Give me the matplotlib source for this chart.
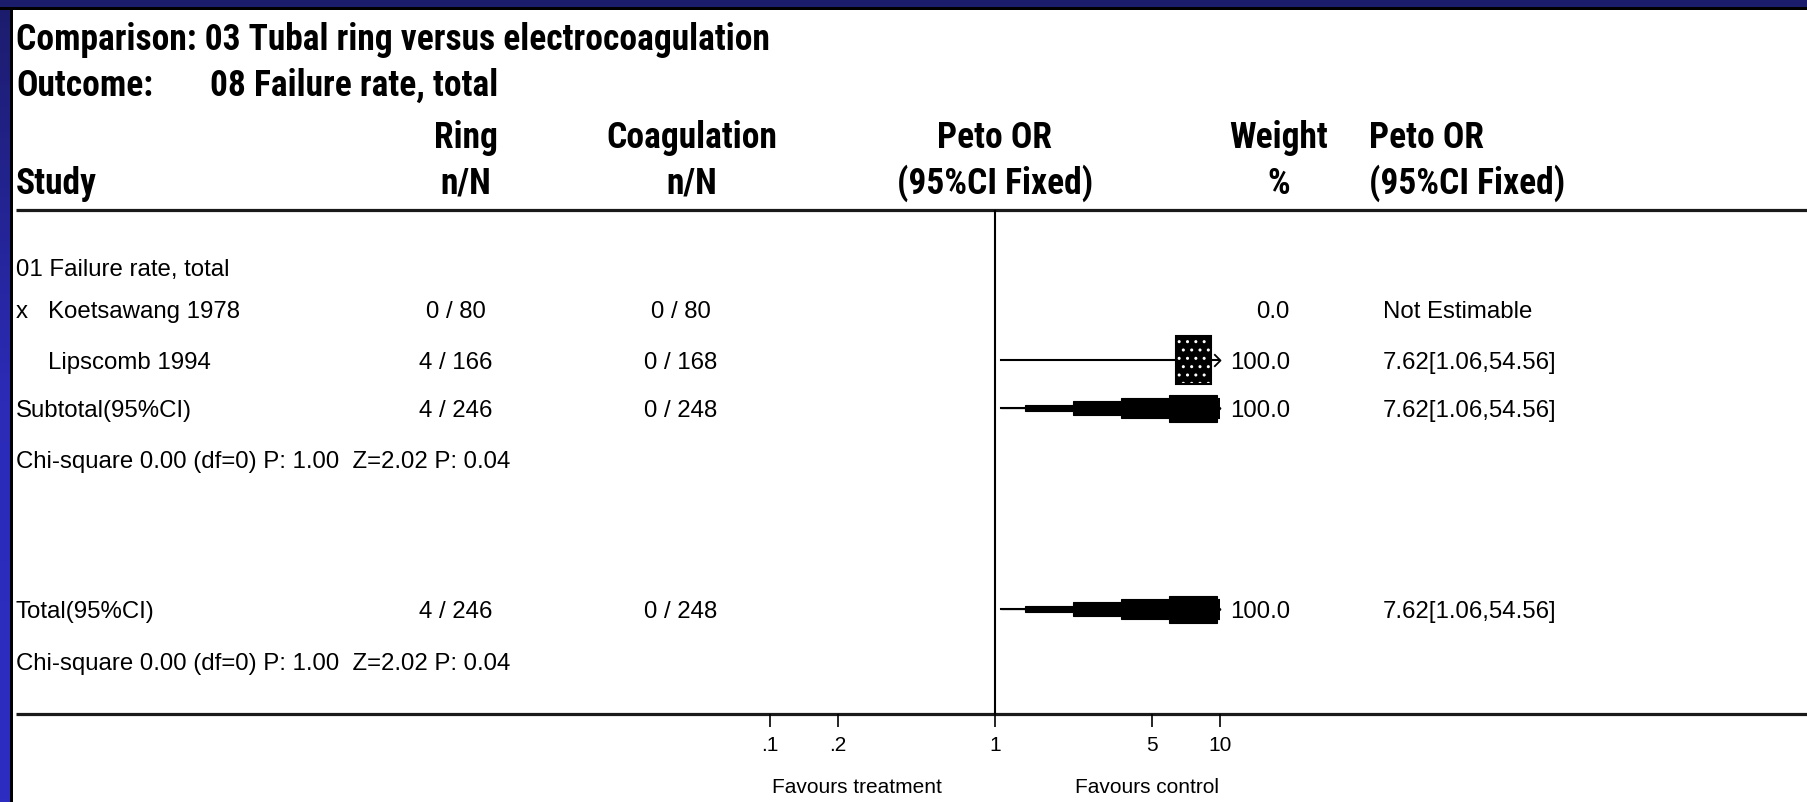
import numpy as np
import matplotlib
matplotlib.use("Agg")
import matplotlib.pyplot as plt
from matplotlib import font_manager
from matplotlib.patches import Rectangle, Polygon
from matplotlib.path import Path
from matplotlib.colors import LinearSegmentedColormap

# fonts: a narrow bold face for the headings if there is one, Arial-like body
names = {f.name for f in font_manager.fontManager.ttflist}
narrow = 'Liberation Sans'
for cand in ['Liberation Sans Narrow', 'Roboto Condensed', 'Open Sans Condensed']:
    if cand in names:
        narrow = cand
        break
body = 'Liberation Sans' if 'Liberation Sans' in names else 'DejaVu Sans'

# data
title = 'Comparison: 03 Tubal ring versus electrocoagulation'
outcome = '08 Failure rate, total'
group_label = '01 Failure rate, total'
studies = ['Koetsawang 1978', 'Lipscomb 1994']
study_flags = ['x', '']
ring_n = [0, 4]
ring_N = [80, 166]
coag_n = [0, 0]
coag_N = [80, 168]
weights = [0.0, 100.0]
or_est = [np.nan, 7.62]
or_lo = [np.nan, 1.06]
or_hi = [np.nan, 54.56]

sub_ring = (4, 246)
sub_coag = (0, 248)
sub_weight = 100.0
sub_or = (7.62, 1.06, 54.56)
sub_het = 'Chi-square 0.00 (df=0) P: 1.00  Z=2.02 P: 0.04'

tot_ring = (4, 246)
tot_coag = (0, 248)
tot_weight = 100.0
tot_or = (7.62, 1.06, 54.56)
tot_het = 'Chi-square 0.00 (df=0) P: 1.00  Z=2.02 P: 0.04'

ticks = [0.1, 0.2, 1, 5, 10]
tick_labels = ['.1', '.2', '1', '5', '10']

W, H = 1808, 802
fig = plt.figure(figsize=(W / 100, H / 100), dpi=100, facecolor='white')
renderer = fig.canvas.get_renderer()

# pixel-coordinate layer for text and frame
ax = fig.add_axes([0, 0, 1, 1])
ax.set_xlim(0, W)
ax.set_ylim(H, 0)
ax.axis('off')

# blue slide frame
ax.add_patch(Rectangle((0, 0), W, 7, color='#1c1c6c', lw=0))
ax.add_patch(Rectangle((0, 7), W, 3, color='black', lw=0))
cmap = LinearSegmentedColormap.from_list('frame', ['#1c1c6c', '#2b2bb8', '#2d2dc2'])
ax.imshow(np.linspace(0, 1, 256).reshape(-1, 1), extent=[0, 10, H, 0], aspect='auto', cmap=cmap)
ax.add_patch(Rectangle((10, 7), 3, H, color='black', lw=0))
ax.set_xlim(0, W)
ax.set_ylim(H, 0)

# size the heading font so the title spans the same width as in the slide
t = ax.text(16, 50, title, family=narrow, weight='bold', fontsize=20, color='black')
tw = t.get_window_extent(renderer=renderer).width
hsize = min(26, 20 * 754 / tw)
t.set_fontsize(hsize)

hfont = dict(family=narrow, weight='bold', fontsize=hsize, color='black')
bfont = dict(family=body, fontsize=17.3, color='black')
sfont = dict(family=body, fontsize=15, color='black')

# header
o = ax.text(16, 96, 'Outcome:', **hfont)
o_end = o.get_window_extent(renderer=renderer).x1
ax.text(max(210, o_end + 14), 96, outcome, **hfont)
ax.text(466, 148, 'Ring', ha='center', **hfont)
ax.text(692, 148, 'Coagulation', ha='center', **hfont)
ax.text(995, 148, 'Peto OR', ha='center', **hfont)
ax.text(1279, 148, 'Weight', ha='center', **hfont)
ax.text(1369, 148, 'Peto OR', **hfont)
ax.text(16, 194, 'Study', **hfont)
ax.text(466, 194, 'n/N', ha='center', **hfont)
ax.text(692, 194, 'n/N', ha='center', **hfont)
ax.text(995, 194, '(95%CI Fixed)', ha='center', **hfont)
ax.text(1279, 194, '%', ha='center', **hfont)
ax.text(1369, 194, '(95%CI Fixed)', **hfont)

ax.plot([16, W], [210, 210], color='#1a1a1a', lw=2.3, solid_capstyle='butt')
ax.plot([16, W], [714, 714], color='#1a1a1a', lw=2.3, solid_capstyle='butt')

# forest panel: x = odds ratio (log), y = pixel rows
fax = fig.add_axes([770 / W, (H - 714) / H, 450 / W, (714 - 210) / H])
fax.set_xscale('log')
fax.set_xlim(0.1, 10)
fax.set_ylim(714, 210)
fax.patch.set_alpha(0)
for s in fax.spines.values():
    s.set_visible(False)
fax.set_yticks([])
fax.set_xticks(ticks)
fax.set_xticklabels(tick_labels)
fax.xaxis.set_minor_locator(matplotlib.ticker.NullLocator())
fax.tick_params(axis='x', direction='out', length=9, width=1.2, pad=7, labelsize=15)
for lab in fax.get_xticklabels():
    lab.set_family(body)

fax.axvline(1, color='black', lw=1.5)

chevron = Path([(-1, 1), (0, 0), (-1, -1)], [Path.MOVETO, Path.LINETO, Path.LINETO])
px_per_dec = 450 / 2.0


def ci_arrow(y, hi):
    if hi > fax.get_xlim()[1]:
        fax.plot([fax.get_xlim()[1]], [y], marker=chevron, ms=9, mfc='none',
                 mec='black', mew=1.3, clip_on=False)


def stepped_diamond(y, est, lo, hi, half_h=13.5):
    # RevMan's low-resolution diamond: height quantised to quarter steps
    l_lo, l_est, l_hi = np.log10([lo, est, hi])
    bounds = [0, 0.125, 0.375, 0.625, 0.875, 1.0]
    segs = []
    for k in range(5):
        segs.append((l_lo + bounds[k] * (l_est - l_lo), l_lo + bounds[k + 1] * (l_est - l_lo), k / 4))
    for k in range(5):
        segs.append((l_est + bounds[k] * (l_hi - l_est), l_est + bounds[k + 1] * (l_hi - l_est), 1 - k / 4))
    top = []
    for x0, x1, lev in segs:
        top += [(10 ** x0, y - half_h * lev), (10 ** x1, y - half_h * lev)]
    bottom = [(x, 2 * y - yy) for x, yy in top[::-1]]
    fax.plot([lo, hi], [y, y], color='black', lw=1.5)
    fax.add_patch(Polygon(top + bottom, closed=True, facecolor='black', edgecolor='black', lw=0.8))
    ci_arrow(y, hi)


# rows
ax.text(16, 276, group_label, **bfont)
row_base = [318, 369]
for i, name in enumerate(studies):
    yb = row_base[i]
    yc = yb - 9
    if study_flags[i]:
        ax.text(16, yb, study_flags[i], **bfont)
    ax.text(48, yb, name, **bfont)
    ax.text(456, yb, f'{ring_n[i]} / {ring_N[i]}', ha='center', **bfont)
    ax.text(681, yb, f'{coag_n[i]} / {coag_N[i]}', ha='center', **bfont)
    ax.text(1290, yb, f'{weights[i]:.1f}', ha='right', **bfont)
    if np.isnan(or_est[i]):
        ax.text(1383, yb, 'Not Estimable', **bfont)
        continue
    ax.text(1383, yb, f'{or_est[i]:.2f}[{or_lo[i]:.2f},{or_hi[i]:.2f}]', **bfont)
    fax.plot([or_lo[i], or_hi[i]], [yc, yc], color='black', lw=1.5)
    dl = 17.5 / px_per_dec
    x0, x1 = or_est[i] * 10 ** -dl, or_est[i] * 10 ** dl
    fax.add_patch(Rectangle((x0, yc - 24), x1 - x0, 48, facecolor='black',
                            edgecolor='white', hatch='..', lw=0, zorder=3))
    fax.add_patch(Rectangle((x0, yc - 24), x1 - x0, 48, fill=False,
                            edgecolor='black', lw=1.5, zorder=4))
    ci_arrow(yc, or_hi[i])

summaries = [
    ('Subtotal(95%CI)', 417, sub_ring, sub_coag, sub_weight, sub_or, sub_het, 468),
    ('Total(95%CI)', 618, tot_ring, tot_coag, tot_weight, tot_or, tot_het, 670),
]
for label, yb, rg, cg, wt, orv, het, yh in summaries:
    ax.text(16, yb, label, **bfont)
    ax.text(456, yb, f'{rg[0]} / {rg[1]}', ha='center', **bfont)
    ax.text(681, yb, f'{cg[0]} / {cg[1]}', ha='center', **bfont)
    ax.text(1290, yb, f'{wt:.1f}', ha='right', **bfont)
    ax.text(1383, yb, f'{orv[0]:.2f}[{orv[1]:.2f},{orv[2]:.2f}]', **bfont)
    ax.text(16, yh, het, **bfont)
    stepped_diamond(yb - 9, *orv)

ax.text(857, 793, 'Favours treatment', ha='center', **sfont)
ax.text(1147, 793, 'Favours control', ha='center', **sfont)

fig.savefig('out.png', dpi=100, facecolor='white')
